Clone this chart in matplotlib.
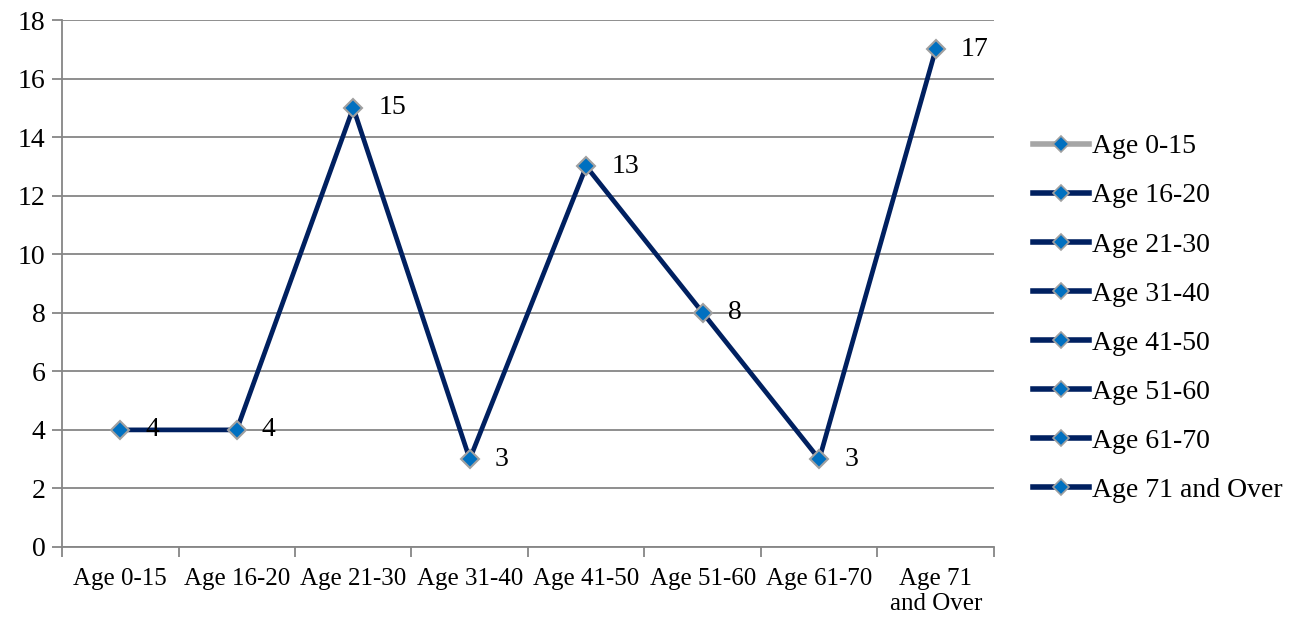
import matplotlib
matplotlib.use('Agg')
import matplotlib.pyplot as plt
from matplotlib.lines import Line2D

categories = ['Age 0-15', 'Age 16-20', 'Age 21-30', 'Age 31-40',
              'Age 41-50', 'Age 51-60', 'Age 61-70', 'Age 71\nand Over']
legend_labels = ['Age 0-15', 'Age 16-20', 'Age 21-30', 'Age 31-40',
                 'Age 41-50', 'Age 51-60', 'Age 61-70', 'Age 71 and Over']
values = [4, 4, 15, 3, 13, 8, 3, 17]
yticks = [0, 2, 4, 6, 8, 10, 12, 14, 16, 18]

navy = '#002060'
blue = '#0070C0'
grey_edge = '#A0A0A0'
grid_c = '#868686'

plt.rcParams['font.family'] = ['Liberation Serif', 'DejaVu Serif']

fig = plt.figure(figsize=(13.12, 6.21), dpi=100)
ax = fig.add_axes([62/1312, 1 - 547/621, (994 - 62)/1312, (547 - 20)/621])

x = list(range(len(values)))
ax.plot(x, values, color=navy, lw=3.4, marker='D', ms=9.5,
        mfc=blue, mec=grey_edge, mew=1.5, zorder=3, solid_joinstyle='miter')

for xi, v in zip(x, values):
    ax.annotate(str(v), (xi, v), xytext=(18, 0), textcoords='offset points',
                ha='left', va='center', fontsize=20, zorder=4)

ax.set_xlim(-0.5, len(values) - 0.5)
ax.set_ylim(0, 18)
ax.set_yticks(yticks)
ax.yaxis.grid(True, color=grid_c, lw=1.3)
ax.set_axisbelow(True)

ax.set_xticks(x)
ax.set_xticklabels(categories, fontsize=18, linespacing=1.2)
ax.set_xticks([i - 0.5 for i in range(len(values) + 1)], minor=True)
ax.tick_params(axis='x', which='major', length=0, pad=15)
ax.tick_params(axis='x', which='minor', length=7, color=grid_c, width=1.3, direction='out')
ax.tick_params(axis='y', length=7, color=grid_c, width=1.3, labelsize=20, pad=5)

for s in ['top', 'right']:
    ax.spines[s].set_visible(False)
for s in ['left', 'bottom']:
    ax.spines[s].set_color(grid_c)
    ax.spines[s].set_linewidth(1.3)

handles = []
for i, lab in enumerate(legend_labels):
    c = '#A6A6A6' if i == 0 else navy
    handles.append(Line2D([0], [0], color=c, lw=4, marker='D', ms=8.5,
                          mfc=blue, mec=grey_edge, mew=1.2))
leg = fig.legend(handles, legend_labels, loc='upper left',
                 bbox_to_anchor=(1033/1312, 1 - 134/621), frameon=False,
                 fontsize=20, handlelength=2.0, handletextpad=0.12,
                 labelspacing=0.85, borderaxespad=0, borderpad=0)

fig.savefig('out.png', dpi=100)
